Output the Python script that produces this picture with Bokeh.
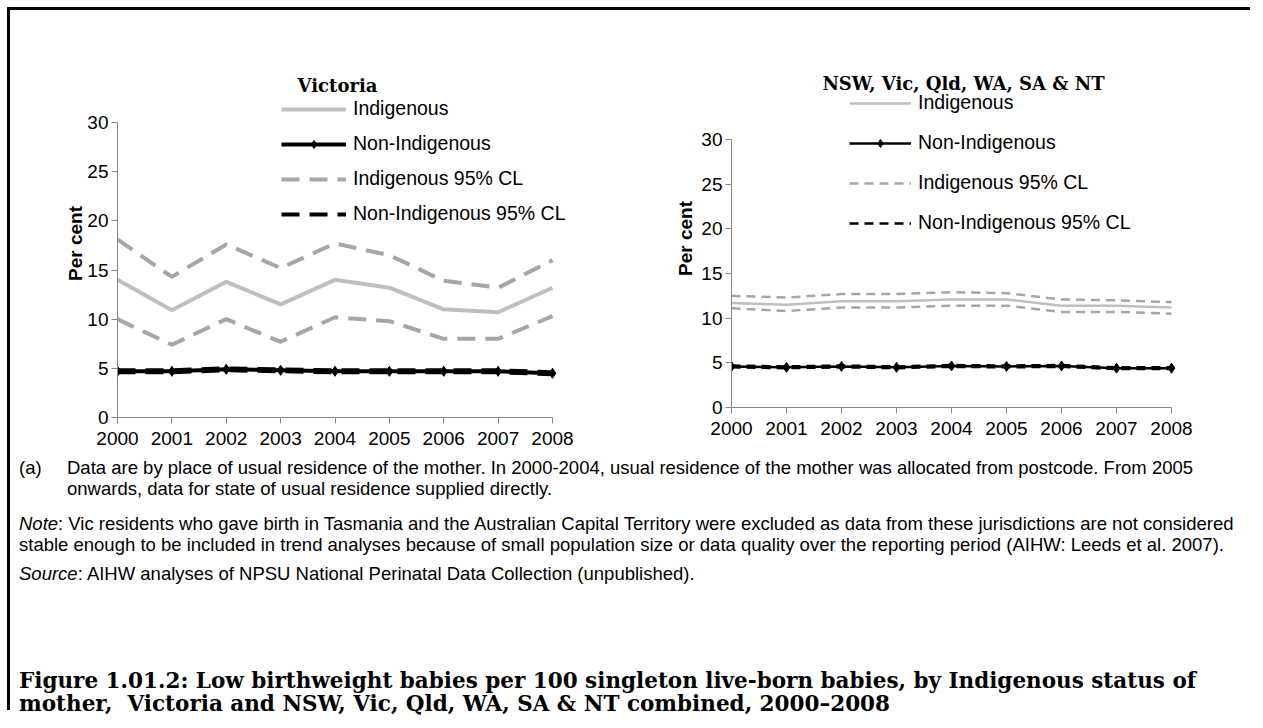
from bokeh.plotting import figure
from bokeh.models import Legend, LegendItem, FixedTicker, Range1d, Div, Label
from bokeh.layouts import row, column
from bokeh.embed import file_html
from bokeh.resources import INLINE

years = [2000, 2001, 2002, 2003, 2004, 2005, 2006, 2007, 2008]
y_ticks = [0, 5, 10, 15, 20, 25, 30]

# Victoria
vic_ind = [14.0, 10.9, 13.8, 11.5, 14.0, 13.2, 11.0, 10.7, 13.2]
vic_ind_hi = [18.1, 14.3, 17.6, 15.2, 17.7, 16.5, 13.9, 13.2, 16.0]
vic_ind_lo = [10.0, 7.4, 10.0, 7.7, 10.2, 9.8, 8.0, 8.0, 10.3]
vic_non = [4.7, 4.7, 4.9, 4.8, 4.7, 4.7, 4.7, 4.7, 4.5]
vic_non_hi = [4.8, 4.8, 5.0, 4.9, 4.8, 4.8, 4.8, 4.8, 4.6]
vic_non_lo = [4.6, 4.6, 4.8, 4.7, 4.6, 4.6, 4.6, 4.6, 4.4]

# NSW, Vic, Qld, WA, SA & NT combined
comb_ind = [11.7, 11.5, 11.9, 11.9, 12.1, 12.1, 11.4, 11.4, 11.2]
comb_ind_hi = [12.5, 12.3, 12.7, 12.7, 12.9, 12.8, 12.1, 12.0, 11.8]
comb_ind_lo = [11.1, 10.8, 11.2, 11.2, 11.4, 11.4, 10.7, 10.7, 10.5]
comb_non = [4.6, 4.5, 4.6, 4.5, 4.65, 4.6, 4.65, 4.4, 4.4]
comb_non_hi = [4.7, 4.6, 4.7, 4.6, 4.75, 4.7, 4.75, 4.5, 4.5]
comb_non_lo = [4.5, 4.4, 4.5, 4.4, 4.55, 4.5, 4.55, 4.3, 4.3]

labels = ["Indigenous", "Non-Indigenous", "Indigenous 95% CL", "Non-Indigenous 95% CL"]

SANS = "Liberation Sans"
SERIF = "DejaVu Serif"
AXIS_GREY = "#868686"

ORIGIN_Y = 11       # page y of the charts' top edge
FRAME_TOP = 70      # page y of the (extended) frame top
FIG_H = 445
ITEM_H = 23         # rendered legend row height


def make_chart(title, ind, hi, lo, non, nhi, nlo, width, fig_x, frame_l, frame_r,
               zero_px, unit_x, unit_y, lw, dash, leg_px, leg_spacing,
               glyph_w, marker_size, title_px, label_standoff):
    # 2000 at the frame's left edge, 0 at its bottom edge; extra room above/right
    x_end = 2000 + (frame_r - frame_l) / unit_x
    y_end = (zero_px - FRAME_TOP) / unit_y
    mb_left = frame_l - fig_x
    mb_right = width - mb_left - (frame_r - frame_l)
    mb_top = FRAME_TOP - ORIGIN_Y
    mb_bottom = FIG_H - mb_top - (zero_px - FRAME_TOP)
    p = figure(width=width, height=FIG_H, output_backend="svg", toolbar_location=None,
               x_range=Range1d(2000, x_end), y_range=Range1d(0, y_end),
               min_border_left=mb_left, min_border_right=mb_right,
               min_border_top=mb_top, min_border_bottom=mb_bottom)
    p.frame_align = False
    p.outline_line_color = None
    p.xgrid.visible = False
    p.ygrid.visible = False

    for ax in (p.xaxis[0], p.yaxis[0]):
        ax.axis_line_color = AXIS_GREY
        ax.major_tick_line_color = AXIS_GREY
        ax.minor_tick_line_color = None
        ax.major_tick_in = 0
        ax.major_tick_out = 6
        ax.major_label_text_font = SANS
        ax.major_label_text_font_size = "19px"
        ax.major_label_text_color = "black"
    p.xaxis.ticker = FixedTicker(ticks=years)
    p.yaxis.ticker = FixedTicker(ticks=y_ticks)
    p.xaxis.bounds = (2000, 2008)
    p.yaxis.bounds = (0, 30)
    p.xaxis.major_label_standoff = 8
    p.yaxis.major_label_standoff = 3
    p.yaxis.axis_label = "Per cent"
    p.yaxis.axis_label_text_font = SANS
    p.yaxis.axis_label_text_font_style = "bold"
    p.yaxis.axis_label_text_font_size = "19px"
    p.yaxis.axis_label_text_color = "black"
    p.yaxis.axis_label_standoff = label_standoff

    r_hi = p.line(years, hi, line_color="#A6A6A6", line_width=lw, line_dash=dash)
    p.line(years, lo, line_color="#A6A6A6", line_width=lw, line_dash=dash)
    r_ind = p.line(years, ind, line_color="#BFBFBF", line_width=lw)
    r_nhi = p.line(years, nhi, line_color="black", line_width=lw, line_dash=dash)
    p.line(years, nlo, line_color="black", line_width=lw, line_dash=dash)
    r_non = p.line(years, non, line_color="black", line_width=lw)
    r_mk = p.scatter(years, non, marker="diamond", size=marker_size,
                     fill_color="black", line_color="black")

    # chart title, drawn inside the extended frame
    tx = 2000 + (title_px[0] - frame_l) / unit_x
    ty = (zero_px - title_px[1]) / unit_y
    p.add_layout(Label(x=tx, y=ty, text=title, text_align="center", text_baseline="middle",
                       text_font=SERIF, text_font_style="bold", text_font_size="18px",
                       text_color="black"))

    n = len(labels)
    leg_h = n * ITEM_H + (n - 1) * leg_spacing
    legend = Legend(items=[
        LegendItem(label=labels[0], renderers=[r_ind]),
        LegendItem(label=labels[1], renderers=[r_non, r_mk]),
        LegendItem(label=labels[2], renderers=[r_hi]),
        LegendItem(label=labels[3], renderers=[r_nhi]),
    ], location=(leg_px[0] - frame_l, zero_px - (leg_px[1] + leg_h)))
    legend.label_text_font = SANS
    legend.label_text_font_size = "19.5px"
    legend.label_text_color = "black"
    legend.label_height = 20
    legend.glyph_height = 20
    legend.glyph_width = glyph_w
    legend.spacing = leg_spacing
    legend.padding = 0
    legend.margin = 0
    legend.label_standoff = 7
    legend.border_line_color = None
    legend.background_fill_alpha = 0
    p.add_layout(legend, "center")
    return p


p1 = make_chart("Victoria", vic_ind, vic_ind_hi, vic_ind_lo, vic_non, vic_non_hi, vic_non_lo,
                width=620, fig_x=11, frame_l=118, frame_r=600, zero_px=418,
                unit_x=54.375, unit_y=9.833, lw=4, dash="18 10", leg_px=(282, 98),
                leg_spacing=12, glyph_w=65, marker_size=10, title_px=(338, 86),
                label_standoff=-2)
p2 = make_chart("NSW, Vic, Qld, WA, SA & NT", comb_ind, comb_ind_hi, comb_ind_lo,
                comb_non, comb_non_hi, comb_non_lo,
                width=620, fig_x=631, frame_l=732, frame_r=1190, zero_px=408,
                unit_x=55.0, unit_y=8.933, lw=2.5, dash="9 6", leg_px=(850, 92),
                leg_spacing=17, glyph_w=62, marker_size=10, title_px=(964, 84),
                label_standoff=2)

note_a = ("Data are by place of usual residence of the mother. In 2000-2004, usual residence of the "
          "mother was allocated from postcode. From 2005<br>onwards, data for state of usual "
          "residence supplied directly.")
note_b = ("Vic residents who gave birth in Tasmania and the Australian Capital Territory were "
          "excluded as data from these jurisdictions are not considered<br>stable enough to be "
          "included in trend analyses because of small population size or data quality over the "
          "reporting period (AIHW: Leeds et al. 2007).")
note_c = "AIHW analyses of NPSU National Perinatal Data Collection (unpublished)."
caption = ("Figure 1.01.2: Low birthweight babies per 100 singleton live-born babies, by "
           "Indigenous status of<br>mother,&nbsp; Victoria and NSW, Vic, Qld, WA, SA &amp; NT "
           "combined, 2000&ndash;2008")

notes_html = f"""
<div style="font-family:'{SANS}';font-size:18.5px;line-height:21px;color:#000;white-space:nowrap;">
  <div style="position:relative;padding-left:57px;margin-top:2px;">
    <span style="position:absolute;left:9px;top:0;">(a)</span>{note_a}
  </div>
  <div style="margin-top:14px;padding-left:9px;"><i>Note</i>: {note_b}</div>
  <div style="margin-top:8px;padding-left:9px;"><i>Source</i>: {note_c}</div>
  <div style="margin-top:85px;padding-left:9px;font-family:'{SERIF}';font-weight:bold;
       font-size:21.5px;line-height:23px;">{caption}</div>
</div>
"""
notes = Div(text=notes_html, width=1240, height=255, margin=0)

root = column(row(p1, p2), notes, margin=(7, 0, 0, 7),
              styles={"border-top": "3px solid black", "border-left": "3px solid black"})

open("out.html", "w").write(file_html(root, INLINE))
